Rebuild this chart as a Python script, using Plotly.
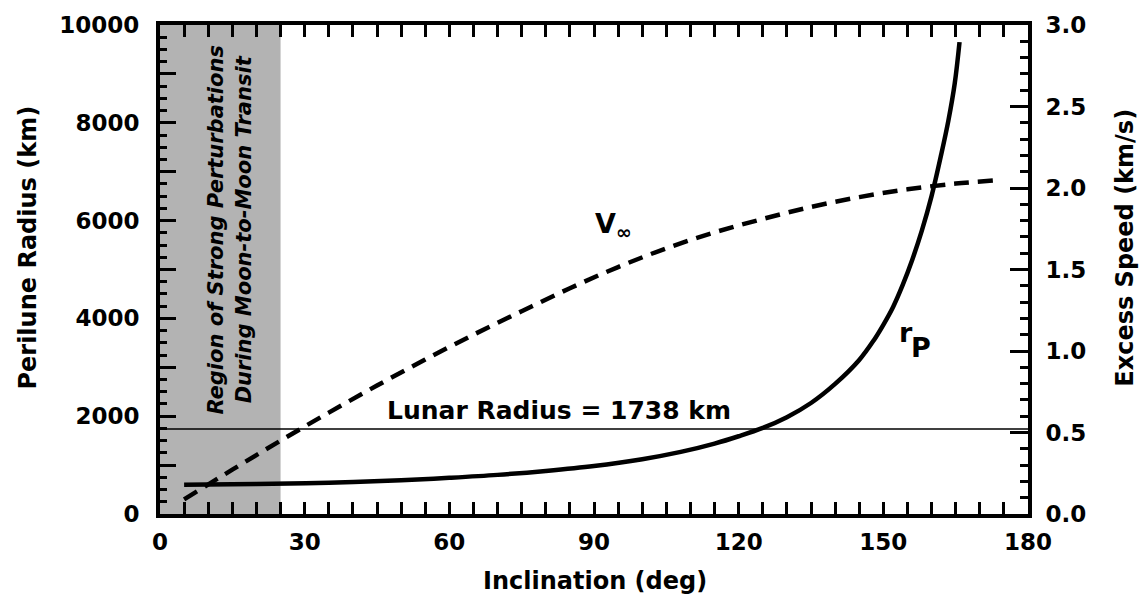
import plotly.graph_objects as go

# ---- data ----
rp_incl = [5, 20, 35, 50, 60, 70, 80, 90, 100, 108, 115, 120, 125, 130, 135, 140, 145,
           148, 150, 152, 154, 156, 158, 160, 162, 163.5, 164.8, 165.8]
rp_km = [600, 612, 640, 690, 740, 800, 880, 980, 1120, 1270, 1440, 1590, 1760, 1980, 2270,
         2660, 3150, 3550, 3870, 4230, 4680, 5200, 5800, 6500, 7350, 8050, 8800, 9650]

vinf_incl = [5, 15, 25, 35, 45, 55, 65, 75, 85, 95, 105, 115, 125, 135, 145, 155, 165, 173]
vinf_kms = [0.09, 0.272, 0.45, 0.622, 0.788, 0.948, 1.10, 1.244, 1.385, 1.515, 1.63, 1.728,
            1.81, 1.884, 1.944, 1.992, 2.027, 2.046]

lunar_radius = 1738
perturb_region = [0, 25]

x_ticks = list(range(0, 181, 15))
x_ticktext = [str(v) if v % 30 == 0 else " " for v in x_ticks]
y_ticks = list(range(0, 10001, 1000))
y_ticktext = [str(v) if v % 2000 == 0 else " " for v in y_ticks]
y2_ticks = [0, 0.5, 1.0, 1.5, 2.0, 2.5, 3.0]
y2_ticktext = ["0.0", "0.5", "1.0", "1.5", "2.0", "2.5", "3.0"]

FONT = "DejaVu Sans"
tickfont = dict(family=FONT, size=23, color="black", weight="bold")

fig = go.Figure()

fig.add_trace(go.Scatter(x=rp_incl, y=rp_km, mode="lines", yaxis="y",
                         line=dict(color="black", width=4.5, shape="spline", smoothing=1.0),
                         showlegend=False, hoverinfo="skip"))
fig.add_trace(go.Scatter(x=vinf_incl, y=vinf_kms, mode="lines", yaxis="y2",
                         line=dict(color="black", width=4.5, dash="15px,9px", shape="spline", smoothing=1.0),
                         showlegend=False, hoverinfo="skip"))

# grey perturbation region
fig.add_shape(type="rect", xref="x", yref="paper", x0=perturb_region[0], x1=perturb_region[1],
              y0=0, y1=1, fillcolor="#b3b3b3", line=dict(width=0), layer="below")
# lunar radius line
fig.add_shape(type="line", xref="x", yref="y", x0=0, x1=180, y0=lunar_radius, y1=lunar_radius,
              line=dict(color="black", width=1.5))

ann = []
ann.append(dict(x=82.8, y=2120, xref="x", yref="y", text=f"Lunar Radius = {lunar_radius} km",
                showarrow=False, xanchor="center", yanchor="middle",
                font=dict(family=FONT, size=25, color="black", weight="bold")))
ann.append(dict(x=14.5, y=5815, xref="x", yref="y",
                text="Region of Strong Perturbations<br>During Moon-to-Moon Transit",
                showarrow=False, xanchor="center", yanchor="middle", textangle=-90,
                font=dict(family=FONT, size=21, color="black", weight="bold", style="italic")))
ann.append(dict(x=89.7, y=5900, xref="x", yref="y", text="V<sub>∞</sub>",
                showarrow=False, xanchor="left", yanchor="middle",
                font=dict(family=FONT, size=27, color="black", weight="bold")))
ann.append(dict(x=154.6, y=3720, xref="x", yref="y", text="r",
                showarrow=False, xanchor="center", yanchor="middle",
                font=dict(family=FONT, size=27, color="black", weight="bold")))
ann.append(dict(x=157.8, y=3400, xref="x", yref="y", text="P",
                showarrow=False, xanchor="center", yanchor="middle",
                font=dict(family=FONT, size=27, color="black", weight="bold")))
# axis titles
titlefont = dict(family=FONT, size=24, color="black", weight="bold")
ann.append(dict(x=-0.152, y=0.545, xref="paper", yref="paper", text="Perilune Radius (km)",
                showarrow=False, textangle=-90, xanchor="center", yanchor="middle", font=titlefont))
ann.append(dict(x=1.112, y=0.545, xref="paper", yref="paper", text="Excess Speed (km/s)",
                showarrow=False, textangle=-90, xanchor="center", yanchor="middle", font=titlefont))
ann.append(dict(x=0.501, y=-0.138, xref="paper", yref="paper", text="Inclination (deg)",
                showarrow=False, xanchor="center", yanchor="middle", font=titlefont))

axis_common = dict(showline=True, linecolor="black", linewidth=4, ticks="inside",
                   tickcolor="black", tickwidth=3, showgrid=False, zeroline=False,
                   tickfont=tickfont)

fig.update_layout(
    width=1144, height=611,
    margin=dict(l=160, r=116, t=22, b=97),
    paper_bgcolor="white", plot_bgcolor="white",
    xaxis=dict(range=[0, 180], tickmode="array", tickvals=x_ticks, ticktext=x_ticktext,
               ticklen=12, mirror="allticks", ticklabelstandoff=4,
               minor=dict(tickmode="array", tickvals=list(range(0, 181, 5)), ticklen=6,
                          tickwidth=3, ticks="inside", tickcolor="black"),
               **axis_common),
    yaxis=dict(range=[0, 10000], tickmode="array", tickvals=y_ticks, ticktext=y_ticktext,
               ticklen=16, ticklabelstandoff=12,
               minor=dict(tickmode="array", tickvals=list(range(0, 10001, 250)), ticklen=7,
                          tickwidth=3, ticks="inside", tickcolor="black"),
               **axis_common),
    yaxis2=dict(range=[0, 3], overlaying="y", side="right", tickmode="array",
                tickvals=y2_ticks, ticktext=y2_ticktext, ticklen=18, ticklabelstandoff=9,
                minor=dict(tickmode="array", tickvals=[i / 10 for i in range(0, 31)], ticklen=8,
                           tickwidth=3, ticks="inside", tickcolor="black"),
                **axis_common),
    annotations=ann,
)

fig.write_html("out.html", config={"displayModeBar": False},
               post_script="document.body.style.margin='0px';")
